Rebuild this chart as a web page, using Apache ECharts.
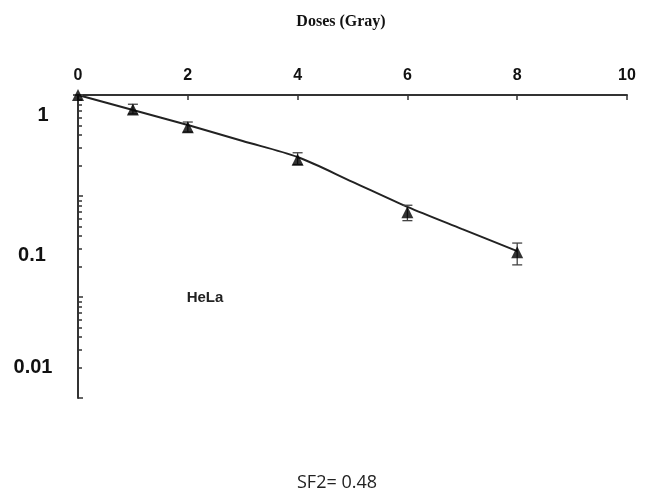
<!DOCTYPE html>
<html>
<head>
<meta charset="utf-8">
<script src="https://cdn.jsdelivr.net/npm/echarts@6/dist/echarts.min.js"></script>
<style>html,body{margin:0;padding:0;background:#fff}#c{width:649px;height:493px}</style>
</head>
<body>
<div id="c"></div>
<script>
// Measured survival fractions (HeLa)
var doses = [0, 1, 2, 4, 6, 8];
var survival = [1, 0.72, 0.48, 0.228, 0.069, 0.0278];
var errLow = [1, 0.65, 0.43, 0.205, 0.057, 0.0208];
var errHigh = [1, 0.81, 0.54, 0.268, 0.081, 0.0342];
// Fitted curve
var fitDoses = [0, 1, 2, 3, 4, 5, 6, 7, 8];
var fitValues = [1, 0.71, 0.505, 0.35, 0.243, 0.138, 0.078, 0.047, 0.0285];
// Texts
var xTitle = 'Doses (Gray)';
var yLabelTexts = ['1', '0.1', '0.01'];
var cellLine = 'HeLa';
var sfText = 'SF2= 0.48';

var chart = echarts.init(document.getElementById('c'));
var labelFont = {fontFamily: 'Liberation Sans', fontWeight: 'bold', fontSize: 16, color: '#111'};
var yLabelPos = [[43, 115], [32, 255], [33, 367]];

chart.setOption({
  animation: false,
  grid: {left: 78, top: 95, width: 549, height: 303},
  xAxis: {
    type: 'value', position: 'top', min: 0, max: 10, interval: 2,
    axisLine: {show: true, lineStyle: {color: '#333', width: 2}},
    axisTick: {show: true, inside: true, length: 5, lineStyle: {color: '#333', width: 1.5}},
    axisLabel: Object.assign({margin: 11}, labelFont),
    splitLine: {show: false}
  },
  yAxis: {
    type: 'log', logBase: 10, min: 0.001, max: 1,
    axisLine: {show: true, lineStyle: {color: '#333', width: 2}},
    axisTick: {show: true, inside: true, length: 5, lineStyle: {color: '#333', width: 1.5}},
    minorTick: {show: true, splitNumber: 9, length: 4, lineStyle: {color: '#333', width: 1.5}},
    axisLabel: {show: false},
    splitLine: {show: false}
  },
  series: [
    {
      type: 'line', data: fitDoses.map(function (d, i) { return [d, fitValues[i]]; }),
      showSymbol: false, smooth: 0.3, lineStyle: {color: '#222', width: 2}, z: 2
    },
    {
      type: 'custom',
      data: doses.map(function (d, i) { return [d, errLow[i], errHigh[i]]; }),
      renderItem: function (params, api) {
        var lo = api.coord([api.value(0), api.value(1)]);
        var hi = api.coord([api.value(0), api.value(2)]);
        var w = 5;
        var st = {stroke: '#444', lineWidth: 1.3};
        return {type: 'group', children: [
          {type: 'line', shape: {x1: lo[0], y1: lo[1], x2: hi[0], y2: hi[1]}, style: st},
          {type: 'line', shape: {x1: lo[0] - w, y1: lo[1], x2: lo[0] + w, y2: lo[1]}, style: st},
          {type: 'line', shape: {x1: hi[0] - w, y1: hi[1], x2: hi[0] + w, y2: hi[1]}, style: st}
        ]};
      }, z: 3
    },
    {
      type: 'scatter', data: doses.map(function (d, i) { return [d, survival[i]]; }),
      symbol: 'triangle', symbolSize: [12, 12], itemStyle: {color: '#000'}, z: 4
    }
  ],
  graphic: yLabelTexts.map(function (t, i) {
    return {type: 'text', x: yLabelPos[i][0], y: yLabelPos[i][1],
      style: {text: t, align: 'center', verticalAlign: 'middle',
        font: 'bold 20px "Liberation Sans"', fill: '#111'}};
  }).concat([
    {type: 'text', x: 341, y: 22, style: {text: xTitle, align: 'center', verticalAlign: 'middle',
      font: 'bold 16px "Liberation Serif"', fill: '#111'}},
    {type: 'text', x: 205, y: 298, style: {text: cellLine, align: 'center', verticalAlign: 'middle',
      font: 'bold 15px "Liberation Sans"', fill: '#222'}},
    {type: 'text', x: 337, y: 483, style: {text: sfText, align: 'center', verticalAlign: 'middle',
      font: '18px "Open Sans"', fill: '#222'}}
  ])
});
</script>
</body>
</html>
